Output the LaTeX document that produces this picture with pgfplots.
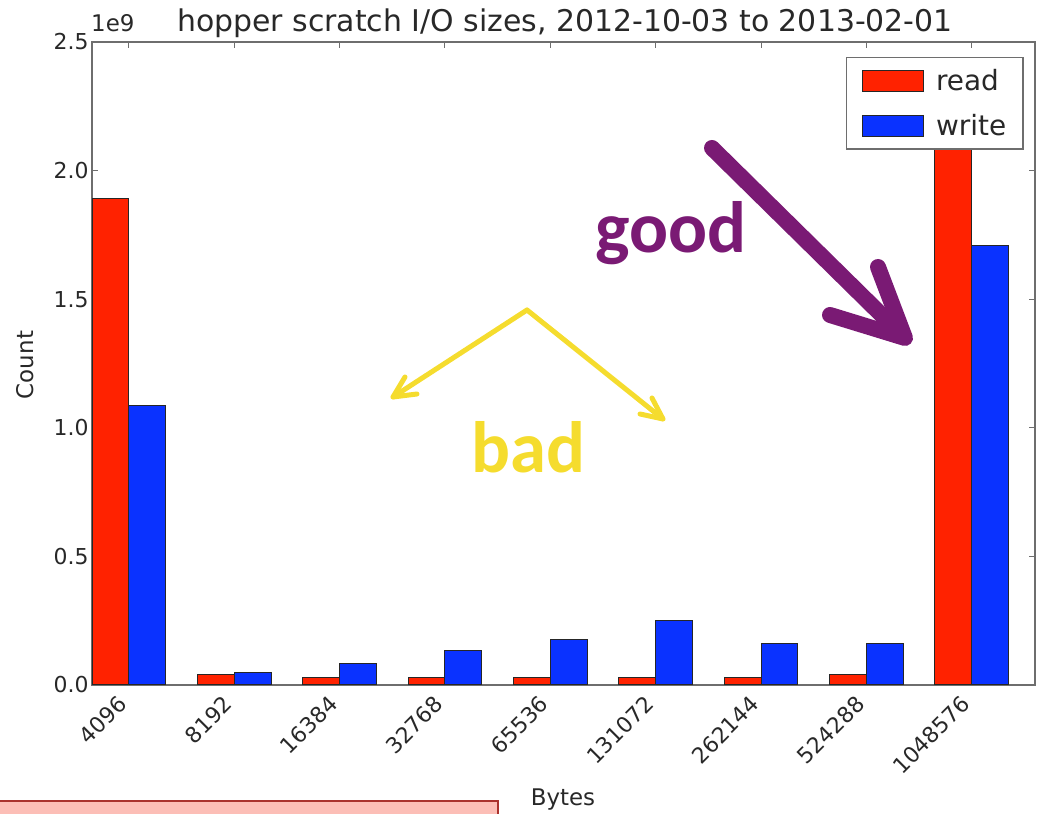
\documentclass[border=0pt]{standalone}
\usepackage{fontspec}
\setmainfont{DejaVu Sans}
\newfontfamily\calibri{Carlito}
\usepackage{pgfplots}
\pgfplotsset{compat=1.18}
\definecolor{barred}{RGB}{255,34,0}
\definecolor{barblue}{RGB}{10,50,255}
\definecolor{goodpurple}{RGB}{122,26,116}
\definecolor{badyellow}{RGB}{245,220,46}
\definecolor{pinkfill}{RGB}{252,190,182}
\definecolor{pinkdraw}{RGB}{170,50,45}
\definecolor{axgray}{RGB}{110,110,110}
\definecolor{txt}{RGB}{40,40,40}
\begin{document}
\begin{tikzpicture}[x=1bp,y=1bp]
\useasboundingbox (0,0) rectangle (1041,814);
\begin{axis}[
  at={(92bp,129bp)}, anchor=south west,
  scale only axis, width=943bp, height=643bp,
  xmin=-0.35, xmax=8.6, ymin=0, ymax=2.5,
  xtick={0,...,8},
  xticklabels={4096,8192,16384,32768,65536,131072,262144,524288,1048576},
  ytick={0,0.5,1,1.5,2,2.5},
  yticklabel style={/pgf/number format/.cd, fixed, fixed zerofill, precision=1, assume math mode=true},
  xticklabel style={xshift=-12bp, yshift=-5bp, rotate=45, anchor=north east, inner sep=3bp},
  tick label style={font=\fontsize{22}{26}\selectfont, text=txt},
  tick align=inside, major tick length=6bp,
  tick style={axgray, line width=1bp},
  axis line style={axgray, line width=1.5bp},
  area legend,
  legend cell align=left,
  legend style={at={(0.9883,0.9767)}, anchor=north east, draw=axgray, line width=1.5bp,
    font=\fontsize{28}{30}\selectfont, text=txt, inner xsep=15bp, inner ysep=10bp, row sep=18bp},
  legend image code/.code={\draw[#1, line width=1bp] (0bp,-10.5bp) rectangle (61bp,10.5bp); \path[draw=none, fill=none] (0bp,0bp) (72bp,0bp);},
]
\addplot[ybar, bar width=0.35, bar shift=-0.175, fill=barred, draw=black!85, line width=1bp]
  coordinates {(0,1.893) (1,0.039) (2,0.028) (3,0.028) (4,0.030) (5,0.030) (6,0.030) (7,0.039) (8,2.25)};
\addlegendentry{read}
\addplot[ybar, bar width=0.35, bar shift=0.175, fill=barblue, draw=black!85, line width=1bp]
  coordinates {(0,1.085) (1,0.049) (2,0.082) (3,0.133) (4,0.175) (5,0.249) (6,0.162) (7,0.162) (8,1.707)};
\addlegendentry{write}
\end{axis}
% titles and labels
\node[anchor=base, text=txt] at (565,782) {\fontsize{30}{32}\selectfont hopper scratch I/O sizes, 2012-10-03 to 2013-02-01};
\node[anchor=base west, inner sep=0pt, text=txt] at (91,782) {\fontsize{23}{26}\selectfont 1e9};
\node[rotate=90, text=txt] at (25,449) {\fontsize{23}{26}\selectfont Count};
\node[anchor=base, inner sep=0pt, text=txt] at (563,8) {\fontsize{23}{26}\selectfont Bytes};
% pink box
\draw[pinkdraw, fill=pinkfill, line width=1.5bp] (-5,13) rectangle (498,-20);
% annotations
\draw[goodpurple, line width=16bp, line cap=round, line join=round] (712,666) -- (903,478);
\draw[goodpurple, line width=16bp, line cap=round, line join=round] (878,547) -- (905,476) -- (830,499);
\node[anchor=base, inner sep=0pt, text=goodpurple] at (671,561) {\calibri\bfseries\fontsize{73}{80}\selectfont good};
\draw[badyellow, line width=5bp, line cap=round, line join=round] (527,504) -- (393,417);
\draw[badyellow, line width=5bp, line cap=round, line join=round] (405,437) -- (393,417) -- (417,420);
\draw[badyellow, line width=5bp, line cap=round, line join=round] (527,504) -- (663,395);
\draw[badyellow, line width=5bp, line cap=round, line join=round] (652,416) -- (663,395) -- (640,400);
\node[anchor=base, inner sep=0pt, text=badyellow] at (528,341) {\calibri\bfseries\fontsize{73}{80}\selectfont bad};
\end{tikzpicture}
\end{document}
